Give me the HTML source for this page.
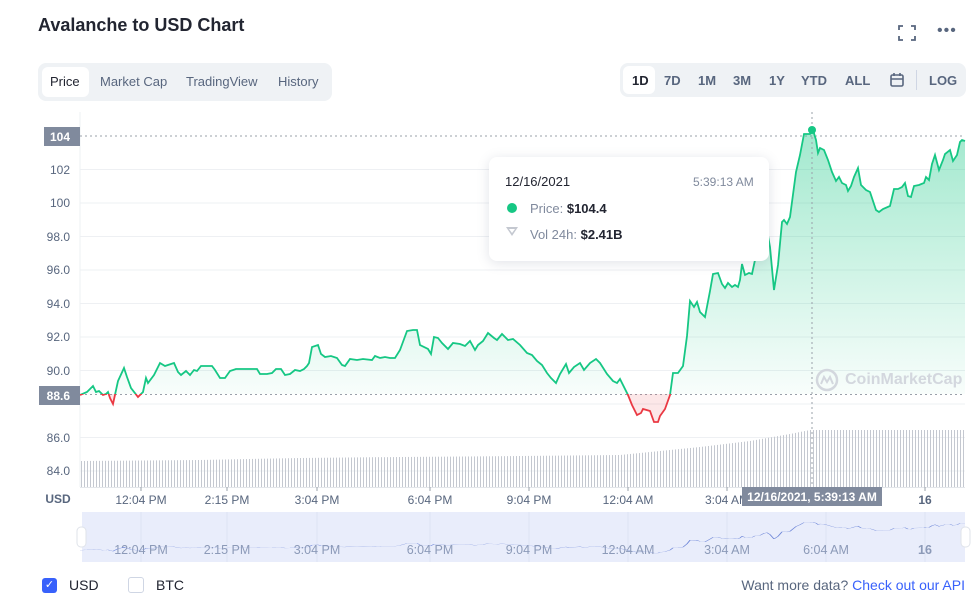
<!DOCTYPE html>
<html><head><meta charset="utf-8">
<style>
html,body{margin:0;padding:0;background:#fff;}
body{width:971px;height:605px;position:relative;overflow:hidden;font-family:"Liberation Sans",sans-serif;color:#222531;}
.abs{position:absolute;}
</style></head>
<body>
<div class="abs" style="left:38px;top:15px;font-size:18px;font-weight:bold;color:#222531;">Avalanche to USD Chart</div>
<svg class="abs" style="left:897px;top:24px" width="20" height="18" viewBox="0 0 20 18"><path d="M2 6V2h4M14 2h4v4M18 12v4h-4M6 16H2v-4" fill="none" stroke="#58667e" stroke-width="1.8"/></svg>
<div class="abs" style="left:937px;top:22px;font-size:16px;color:#58667e;letter-spacing:1px">•••</div>
<div class="abs" style="left:38px;top:63px;width:294px;height:38px;background:#eff2f5;border-radius:8px;"></div>
<div class="abs" style="left:42px;top:67px;width:47px;height:30px;background:#fff;border-radius:6px;"></div>
<div class="abs" style="left:0;top:74px;font-size:13px;color:#58667e;width:400px;">
<span class="abs" style="left:50px;color:#222531">Price</span><span class="abs" style="left:100px">Market Cap</span><span class="abs" style="left:186px">TradingView</span><span class="abs" style="left:278px">History</span></div>
<div class="abs" style="left:620px;top:63px;width:346px;height:34px;background:#eff2f5;border-radius:8px;"></div>
<div class="abs" style="left:623px;top:66px;width:32px;height:28px;background:#fff;border-radius:6px;"></div>
<div class="abs" style="left:0;top:73px;font-size:13px;font-weight:bold;color:#58667e;width:971px;height:20px">
<span class="abs" style="left:632px;color:#222531">1D</span><span class="abs" style="left:664px">7D</span><span class="abs" style="left:698px">1M</span><span class="abs" style="left:733px">3M</span><span class="abs" style="left:769px">1Y</span><span class="abs" style="left:801px">YTD</span><span class="abs" style="left:845px">ALL</span><span class="abs" style="left:929px">LOG</span></div>
<svg class="abs" style="left:889px;top:72px" width="16" height="16"><rect x="2" y="3" width="12" height="11" rx="1.5" fill="none" stroke="#58667e" stroke-width="1.6"/><path d="M2 7h12M5 1v3M11 1v3" stroke="#58667e" stroke-width="1.6"/></svg>
<div class="abs" style="left:916px;top:70px;width:1px;height:20px;background:#cfd6e4"></div>

<svg class="abs" style="left:0;top:0" width="971" height="605">
<defs>
<linearGradient id="g" x1="0" y1="130" x2="0" y2="394" gradientUnits="userSpaceOnUse"><stop offset="0" stop-color="#16c784" stop-opacity="0.4"/><stop offset="1" stop-color="#16c784" stop-opacity="0.03"/></linearGradient>
<clipPath id="up"><rect x="80" y="100" width="890" height="294"/></clipPath>
<clipPath id="dn"><rect x="80" y="394" width="890" height="100"/></clipPath>
<pattern id="vb" width="3" height="10" patternUnits="userSpaceOnUse"><rect x="0" y="0" width="1" height="10" fill="#c4c8d0"/></pattern>
</defs>
<g stroke="#eef0f3" stroke-width="1">
<line x1="80" x2="965" y1="169.5" y2="169.5"/><line x1="80" x2="965" y1="203" y2="203"/><line x1="80" x2="965" y1="236.5" y2="236.5"/><line x1="80" x2="965" y1="270" y2="270"/><line x1="80" x2="965" y1="303.5" y2="303.5"/><line x1="80" x2="965" y1="337" y2="337"/><line x1="80" x2="965" y1="370.5" y2="370.5"/><line x1="80" x2="965" y1="404" y2="404"/><line x1="80" x2="965" y1="437.5" y2="437.5"/><line x1="80" x2="965" y1="471" y2="471"/>
<line x1="80" x2="80" y1="112" y2="487"/>
</g>
<polygon points="80,461 200,460 300,458 400,457 520,456 620,455 650,452 700,447 750,441 790,434 810,430 965,430 965,487 80,487" fill="url(#vb)"/>
<g font-size="12" fill="#58667e" text-anchor="end">
<text x="70" y="174">102</text><text x="70" y="207">100</text><text x="70" y="241">98.0</text><text x="70" y="274">96.0</text><text x="70" y="308">94.0</text><text x="70" y="341">92.0</text><text x="70" y="375">90.0</text><text x="70" y="442">86.0</text><text x="70" y="475">84.0</text>
</g>
<line x1="80" x2="965" y1="136" y2="136" stroke="#9aa0aa" stroke-dasharray="2,3"/>
<line x1="80" x2="965" y1="394.5" y2="394.5" stroke="#9aa0aa" stroke-dasharray="2,3"/>
<path id="p" d="M80,395 L87,392 93,386 96,392 99,391 103,395 106,394 108,392 110,398 113,404 118,381 124,368 127,377 131,388 138,397 143,392 146,378 148,383 154,375 160,363 165,366 168,365 174,363 178,372 181,375 186,371 190,375 194,370 197,371 201,366 207,366 212,366 215,370 220,378 225,378 230,371 236,369 257,369 260,374 267,374 272,373 276,369 281,369 285,375 290,374 295,370 300,371 304,369 307,366 309,363 312,347 318,345 321,354 325,357 331,356 337,358 342,365 345,366 350,359 357,360 363,359 372,360 375,356 380,358 385,357 390,358 395,358 400,350 407,331 413,330 417,330 420,345 428,349 431,354 434,337 438,338 442,343 448,349 453,343 460,344 465,346 470,341 475,350 478,345 483,341 488,333 494,338 497,340 502,334 508,340 513,339 520,345 527,353 532,355 537,361 542,365 547,373 551,378 556,383 560,374 566,364 569,373 574,367 580,363 584,370 590,363 596,359 600,363 607,374 613,381 617,383 620,379 628,395 632,405 637,415 641,413 643,409 650,411 654,422 658,422 660,416 665,409 670,395 673,373 678,373 683,366 687,336 690,301 694,307 697,302 700,312 705,317 710,291 713,274 718,273 722,284 725,288 728,283 732,287 735,285 738,287 740,280 742,264 745,275 749,273 752,274 755,260 760,255 764,236 767,230 770,247 774,290 778,265 782,222 784,220 787,224 790,217 796,172 800,155 804,134 810,134 813,130 816,140 818,153 820,148 824,150 828,160 832,172 836,181 839,177 842,183 846,185 848,191 851,186 854,177 858,168 861,185 866,190 870,192 876,210 879,212 883,209 890,206 894,189 898,189 902,187 905,183 908,196 911,197 914,186 919,185 924,183 926,177 929,180 932,164 935,155 939,170 943,160 945,154 950,150 953,161 957,155 960,142 962,140 965,141" fill="none"/>
<g clip-path="url(#up)"><path d="M80,395 L87,392 93,386 96,392 99,391 103,395 106,394 108,392 110,398 113,404 118,381 124,368 127,377 131,388 138,397 143,392 146,378 148,383 154,375 160,363 165,366 168,365 174,363 178,372 181,375 186,371 190,375 194,370 197,371 201,366 207,366 212,366 215,370 220,378 225,378 230,371 236,369 257,369 260,374 267,374 272,373 276,369 281,369 285,375 290,374 295,370 300,371 304,369 307,366 309,363 312,347 318,345 321,354 325,357 331,356 337,358 342,365 345,366 350,359 357,360 363,359 372,360 375,356 380,358 385,357 390,358 395,358 400,350 407,331 413,330 417,330 420,345 428,349 431,354 434,337 438,338 442,343 448,349 453,343 460,344 465,346 470,341 475,350 478,345 483,341 488,333 494,338 497,340 502,334 508,340 513,339 520,345 527,353 532,355 537,361 542,365 547,373 551,378 556,383 560,374 566,364 569,373 574,367 580,363 584,370 590,363 596,359 600,363 607,374 613,381 617,383 620,379 628,395 632,405 637,415 641,413 643,409 650,411 654,422 658,422 660,416 665,409 670,395 673,373 678,373 683,366 687,336 690,301 694,307 697,302 700,312 705,317 710,291 713,274 718,273 722,284 725,288 728,283 732,287 735,285 738,287 740,280 742,264 745,275 749,273 752,274 755,260 760,255 764,236 767,230 770,247 774,290 778,265 782,222 784,220 787,224 790,217 796,172 800,155 804,134 810,134 813,130 816,140 818,153 820,148 824,150 828,160 832,172 836,181 839,177 842,183 846,185 848,191 851,186 854,177 858,168 861,185 866,190 870,192 876,210 879,212 883,209 890,206 894,189 898,189 902,187 905,183 908,196 911,197 914,186 919,185 924,183 926,177 929,180 932,164 935,155 939,170 943,160 945,154 950,150 953,161 957,155 960,142 962,140 965,141 L965,394 80,394Z" fill="url(#g)"/>
<use href="#p" stroke="#16c784" stroke-width="1.8"/></g>
<g clip-path="url(#dn)"><path d="M628,394 L632,405 637,415 641,413 643,409 650,411 654,422 658,422 660,416 665,409 670,394Z M108,394 L110,398 113,404 116,394Z" fill="#ea3943" fill-opacity="0.12"/><use href="#p" stroke="#ea3943" stroke-width="1.8"/></g>
<line x1="812" x2="812" y1="112" y2="487" stroke="#9aa0aa" stroke-dasharray="2,3"/>
<circle cx="812" cy="130" r="4" fill="#16c784"/>
<rect x="44" y="127" width="36" height="19" fill="#808a9d"/><text x="70" y="141" font-size="12" font-weight="bold" fill="#fff" text-anchor="end">104</text>
<rect x="39" y="386" width="41" height="19" fill="#808a9d"/><text x="70" y="400" font-size="12" font-weight="bold" fill="#fff" text-anchor="end">88.6</text>
<line x1="80" x2="965" y1="487.5" y2="487.5" stroke="#e3e6ea"/>
<g stroke="#9aa0aa"><line x1="141" x2="141" y1="487" y2="491"/><line x1="227" x2="227" y1="487" y2="491"/><line x1="317" x2="317" y1="487" y2="491"/><line x1="430" x2="430" y1="487" y2="491"/><line x1="529" x2="529" y1="487" y2="491"/><line x1="628" x2="628" y1="487" y2="491"/><line x1="727" x2="727" y1="487" y2="491"/><line x1="925" x2="925" y1="487" y2="491"/></g>
<g font-size="12" fill="#58667e" text-anchor="middle">
<text x="58" y="503" font-weight="bold">USD</text>
<text x="141" y="504">12:04 PM</text><text x="227" y="504">2:15 PM</text><text x="317" y="504">3:04 PM</text><text x="430" y="504">6:04 PM</text><text x="529" y="504">9:04 PM</text><text x="628" y="504">12:04 AM</text><text x="727" y="504">3:04 AM</text><text x="925" y="504" font-weight="bold">16</text>
</g>
<rect x="742" y="487" width="140" height="19" fill="#808a9d"/><text x="812" y="501" font-size="12" font-weight="bold" fill="#fff" text-anchor="middle">12/16/2021, 5:39:13 AM</text>
<!-- navigator -->
<rect x="82" y="512" width="883" height="50" fill="#e9edfb"/>
<g stroke="#dde2f3"><line x1="141" x2="141" y1="512" y2="562"/><line x1="227" x2="227" y1="512" y2="562"/><line x1="317" x2="317" y1="512" y2="562"/><line x1="430" x2="430" y1="512" y2="562"/><line x1="529" x2="529" y1="512" y2="562"/><line x1="628" x2="628" y1="512" y2="562"/><line x1="727" x2="727" y1="512" y2="562"/><line x1="826" x2="826" y1="512" y2="562"/><line x1="925" x2="925" y1="512" y2="562"/></g>
<g transform="translate(0,508.3) scale(1,0.106)"><use href="#p" stroke="#6f87d8" stroke-width="1.2" vector-effect="non-scaling-stroke" style="vector-effect:non-scaling-stroke"/></g>
<g font-size="12.5" fill="#8c9ab8" text-anchor="middle">
<text x="141" y="554">12:04 PM</text><text x="227" y="554">2:15 PM</text><text x="317" y="554">3:04 PM</text><text x="430" y="554">6:04 PM</text><text x="529" y="554">9:04 PM</text><text x="628" y="554">12:04 AM</text><text x="727" y="554">3:04 AM</text><text x="826" y="554">6:04 AM</text><text x="925" y="554" font-weight="bold">16</text>
</g>
<rect x="77" y="527" width="9" height="20" rx="4" fill="#fff" stroke="#dfe3ea"/>
<rect x="961" y="527" width="9" height="20" rx="4" fill="#fff" stroke="#dfe3ea"/>
</svg>

<div class="abs" style="left:489px;top:157px;width:280px;height:104px;background:#fff;border-radius:8px;box-shadow:0 2px 12px rgba(88,102,126,0.18);"></div>
<div class="abs" style="left:505px;top:174px;font-size:13px;color:#222531;">12/16/2021</div>
<div class="abs" style="left:693px;top:175px;font-size:12px;color:#808a9d;">5:39:13 AM</div>
<div class="abs" style="left:507px;top:203px;width:10px;height:10px;border-radius:5px;background:#16c784"></div>
<div class="abs" style="left:530px;top:201px;font-size:13px;color:#808a9d;">Price: <b style="color:#222531">$104.4</b></div>
<svg class="abs" style="left:505px;top:226px" width="14" height="12"><path d="M1 1h12l-6 9z" fill="#c4c8d0"/><path d="M4 3h6l-3 4z" fill="#fff"/></svg>
<div class="abs" style="left:530px;top:227px;font-size:13px;color:#808a9d;">Vol 24h: <b style="color:#222531">$2.41B</b></div>

<svg class="abs" style="left:815px;top:368px" width="26" height="26"><circle cx="12" cy="12" r="10" fill="none" stroke="#d3d7de" stroke-width="2.5"/><path d="M6 16l3-7 3 5 3-5 3 7" fill="none" stroke="#d3d7de" stroke-width="2"/></svg>
<div class="abs" style="left:845px;top:371px;font-size:16px;font-weight:bold;color:#d3d7de;">CoinMarketCap</div>

<div class="abs" style="left:42px;top:578px;width:15px;height:15px;border-radius:3px;background:#3861fb;color:#fff;font-size:11px;text-align:center;line-height:15px">✓</div>
<div class="abs" style="left:69px;top:577px;font-size:14px;">USD</div>
<div class="abs" style="left:128px;top:577px;width:14px;height:14px;border-radius:3px;border:1px solid #cfd6e4;"></div>
<div class="abs" style="left:156px;top:577px;font-size:14px;">BTC</div>
<div class="abs" style="right:6px;top:577px;font-size:14px;color:#58667e;">Want more data? <span style="color:#3861fb">Check out our API</span></div>
</body></html>
